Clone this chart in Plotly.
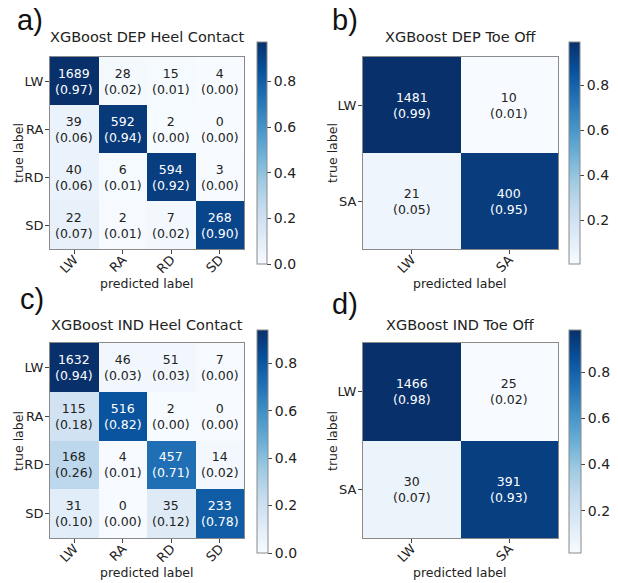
import numpy as np
import plotly.graph_objects as go

# Confusion-matrix counts (rows = true label, columns = predicted label)
heel_labels = ["LW", "RA", "RD", "SD"]
toe_labels = ["LW", "SA"]

dep_heel_counts = [
    [1689, 28, 15, 4],
    [39, 592, 2, 0],
    [40, 6, 594, 3],
    [22, 2, 7, 268],
]
dep_toe_counts = [
    [1481, 10],
    [21, 400],
]
ind_heel_counts = [
    [1632, 46, 51, 7],
    [115, 516, 2, 0],
    [168, 4, 457, 14],
    [31, 0, 35, 233],
]
ind_toe_counts = [
    [1466, 25],
    [30, 391],
]

titles = [
    "XGBoost DEP Heel Contact",
    "XGBoost DEP Toe Off",
    "XGBoost IND Heel Contact",
    "XGBoost IND Toe Off",
]
panel_tags = ["a)", "b)", "c)", "d)"]

# matplotlib "Blues"
blues = [
    [0.0, "#f7fbff"], [0.125, "#deebf7"], [0.25, "#c6dbef"], [0.375, "#9ecae1"],
    [0.5, "#6baed6"], [0.625, "#4292c6"], [0.75, "#2171b5"], [0.875, "#08519c"],
    [1.0, "#08306b"],
]

W, H = 618, 583


def px_x(v):
    return v / W


def px_y(v):
    return 1 - v / H


FONT = "DejaVu Sans"

# pixel layout of each panel: heatmap box, colorbar box, text anchors
panels = [
    dict(counts=dep_heel_counts, labels=heel_labels, box=(50, 244, 57, 249),
         cbar=(257, 267, 42, 264), tag=(30, 20), ylab=(18, 153), xlab=(147, 283), ttl=37),
    dict(counts=dep_toe_counts, labels=toe_labels, box=(363, 558, 57, 249),
         cbar=(569, 580, 42, 264), tag=(345, 20), ylab=(332, 153), xlab=(460, 283), ttl=37),
    dict(counts=ind_heel_counts, labels=heel_labels, box=(50, 244, 343, 538),
         cbar=(257, 268, 330, 553), tag=(32, 299), ylab=(18, 441), xlab=(147, 572), ttl=325),
    dict(counts=ind_toe_counts, labels=toe_labels, box=(363, 558, 343, 538),
         cbar=(569, 581, 330, 553), tag=(345, 304), ylab=(332, 441), xlab=(460, 572), ttl=325),
]

fig = go.Figure()
annotations = []
layout_axes = {}

for i, p in enumerate(panels):
    k = "" if i == 0 else str(i + 1)
    counts = np.array(p["counts"], dtype=float)
    frac = counts / counts.sum(axis=1, keepdims=True)
    n = len(p["labels"])
    x0, x1, y0, y1 = p["box"]
    cx0, cx1, cy0, cy1 = p["cbar"]

    fig.add_trace(go.Heatmap(
        z=frac,
        x=list(range(n)),
        y=list(range(n)),
        xaxis="x" + k,
        yaxis="y" + k,
        colorscale=blues,
        zmin=frac.min(),
        zmax=frac.max(),
        hoverinfo="skip",
        colorbar=dict(
            x=px_x(cx0), xanchor="left", xpad=0,
            y=px_y(cy0), yanchor="top", ypad=0,
            len=cy1 - cy0, lenmode="pixels",
            thickness=cx1 - cx0, thicknessmode="pixels",
            outlinewidth=1, outlinecolor="#8a8a8a",
            tickvals=[0.0, 0.2, 0.4, 0.6, 0.8],
            tickformat=".1f",
            ticks="outside", ticklen=4, tickcolor="#444",
            tickfont=dict(family=FONT, size=14, color="#222"),
        ),
    ))

    axis_common = dict(showgrid=False, zeroline=False, showline=True, mirror=True,
                       linecolor="#8a8a8a", linewidth=1, ticks="outside", ticklen=4,
                       tickcolor="#444", tickfont=dict(family=FONT, size=13, color="#222"),
                       tickvals=list(range(n)), ticktext=p["labels"], fixedrange=True)
    layout_axes["xaxis" + k] = dict(
        axis_common, domain=[px_x(x0), px_x(x1)], range=[-0.5, n - 0.5],
        anchor="y" + k, tickangle=-45, ticklabelstandoff=-7)
    layout_axes["yaxis" + k] = dict(
        axis_common, domain=[px_y(y1), px_y(y0)], range=[n - 0.5, -0.5],
        anchor="x" + k, ticklabelstandoff=-1)

    # cell labels: count on top, row fraction below
    thresh = frac.max() / 2
    for r in range(n):
        for c in range(n):
            col = "white" if frac[r, c] > thresh else "#222"
            annotations.append(dict(
                x=c, y=r, xref="x" + k, yref="y" + k,
                text=f"{int(counts[r, c])}<br>({frac[r, c]:.2f})", showarrow=False,
                font=dict(family=FONT, size=12.5, color=col)))

    # title
    annotations.append(dict(
        x=px_x((x0 + x1) / 2), y=px_y(p["ttl"]), xref="paper", yref="paper",
        text=titles[i], showarrow=False, xanchor="center", yanchor="middle",
        font=dict(family=FONT, size=14.5, color="#222")))
    # axis titles
    annotations.append(dict(
        x=px_x(p["ylab"][0]), y=px_y(p["ylab"][1]), xref="paper", yref="paper",
        text="true label", textangle=-90, showarrow=False, xanchor="center",
        yanchor="middle", font=dict(family=FONT, size=12.5, color="#222")))
    annotations.append(dict(
        x=px_x(p["xlab"][0]), y=px_y(p["xlab"][1]), xref="paper", yref="paper",
        text="predicted label", showarrow=False, xanchor="center",
        yanchor="middle", font=dict(family=FONT, size=12.5, color="#222")))
    # panel tag
    annotations.append(dict(
        x=px_x(p["tag"][0]), y=px_y(p["tag"][1]), xref="paper", yref="paper",
        text=panel_tags[i], showarrow=False, xanchor="center", yanchor="middle",
        font=dict(family="Liberation Sans", size=29, color="#111")))

fig.update_layout(
    width=W, height=H,
    margin=dict(l=0, r=0, t=0, b=0),
    paper_bgcolor="white", plot_bgcolor="white",
    showlegend=False,
    annotations=annotations,
    **layout_axes,
)

fig.write_html("out.html")
